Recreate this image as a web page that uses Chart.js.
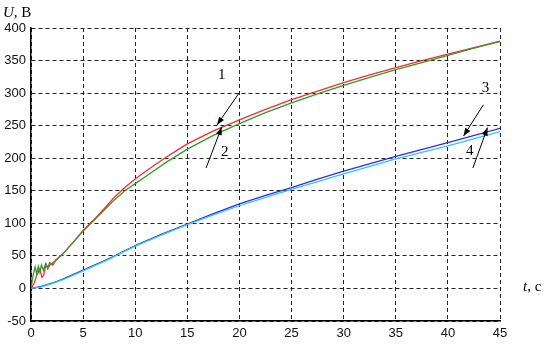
<!DOCTYPE html>
<html>
<head>
<meta charset="utf-8">
<script src="https://cdn.jsdelivr.net/npm/chart.js@4/dist/chart.umd.min.js"></script>
<style>
    html, body { margin: 0; padding: 0; background: #fff; }
    #wrap { width: 559px; height: 351px; }
</style>
</head>
<body>
<div id="wrap"><canvas id="lineChart"></canvas></div>
<script>
// curve 1 (red) and 2 (green)
var t1 = [0, 0.3, 0.6, 0.85, 1.05, 1.2, 1.45, 1.6, 1.9, 2.1, 2.4, 3, 4, 5, 6, 7, 8, 9, 10, 11, 12, 13, 14, 15, 17.5, 20, 22.5, 25, 27.5, 30, 32.5, 35, 37.5, 40, 42.5, 45];
var u1 = [0, 8, 22, 30, 17, 20, 37, 30, 38, 36, 44, 52, 70, 89, 105, 122, 140, 155, 168, 180, 191, 202, 212, 222, 242, 259, 275, 290, 303, 316, 328, 339, 350, 360, 370, 380];
var t2 = [0, 0.2, 0.4, 0.55, 0.7, 0.85, 1.0, 1.2, 1.4, 1.6, 1.8, 2.0, 2.5, 3, 4, 5, 6, 7, 8, 9, 10, 11, 12, 13, 14, 15, 17.5, 20, 22.5, 25, 27.5, 30, 32.5, 35, 37.5, 40, 42.5, 45];
var u2 = [0, 20, 33, 22, 34, 25, 36, 28, 38, 32, 40, 38, 45, 52, 70, 88, 104, 120, 136, 150, 161, 172, 183, 194, 204, 214, 235, 253, 270, 285, 299, 312, 324, 336, 347, 358, 369, 379];
// curve 3 (blue) and 4 (cyan)
var t3 = [0, 1, 2, 3, 5, 7.5, 10, 12.5, 15, 17.5, 20, 22.5, 25, 27.5, 30, 35, 40, 45];
var u3 = [0, 3, 8, 14, 28, 46, 66, 83, 99, 115, 130, 143, 155, 168, 180, 203, 224, 246];
var u4 = [0, 2.5, 7.5, 13, 27, 45, 65, 82, 98, 113, 127, 140, 152, 164, 176, 199, 219, 241];

var xTicks = [0, 5, 10, 15, 20, 25, 30, 35, 40, 45];
var yTicks = [-50, 0, 50, 100, 150, 200, 250, 300, 350, 400];

// curve numbers and arrows, in data units
var soCurve = ["1", "2", "3", "4"];
var nhanT = [18.3, 18.6, 43.6, 42.1];
var nhanU = [327, 210, 308, 211];
var muiTenTu = [[19.95, 300], [16.8, 185], [43.4, 282], [42.4, 185]];
var muiTenDen = [[17.85, 251], [18.3, 248], [41.5, 234], [43.8, 247]];

function toPoints(t, u) {
    var pts = [];
    for (var i = 0; i < t.length; i++) {
        pts.push({ x: t[i], y: u[i] });
    }
    return pts;
}

var chuThich = {
    id: 'chuThich',
    afterDraw: function (chart) {
        var ctx = chart.ctx;
        var sx = chart.scales.x;
        var sy = chart.scales.y;
        ctx.save();
        ctx.fillStyle = '#000';
        ctx.strokeStyle = '#000';
        ctx.lineWidth = 1;
        ctx.textAlign = 'center';
        ctx.textBaseline = 'middle';
        ctx.font = '15px "Liberation Serif", serif';
        for (var i = 0; i < soCurve.length; i++) {
            ctx.fillText(soCurve[i], sx.getPixelForValue(nhanT[i]), sy.getPixelForValue(nhanU[i]));
            var x1 = sx.getPixelForValue(muiTenTu[i][0]);
            var y1 = sy.getPixelForValue(muiTenTu[i][1]);
            var x2 = sx.getPixelForValue(muiTenDen[i][0]);
            var y2 = sy.getPixelForValue(muiTenDen[i][1]);
            ctx.beginPath();
            ctx.moveTo(x1, y1);
            ctx.lineTo(x2, y2);
            ctx.stroke();
            var a = Math.atan2(y2 - y1, x2 - x1);
            ctx.beginPath();
            ctx.moveTo(x2, y2);
            ctx.lineTo(x2 - 8 * Math.cos(a) + 3 * Math.sin(a), y2 - 8 * Math.sin(a) - 3 * Math.cos(a));
            ctx.lineTo(x2 - 8 * Math.cos(a) - 3 * Math.sin(a), y2 - 8 * Math.sin(a) + 3 * Math.cos(a));
            ctx.closePath();
            ctx.fill();
        }
        // axis names
        ctx.textAlign = 'left';
        ctx.textBaseline = 'alphabetic';
        ctx.font = 'italic 15px "Liberation Serif", serif';
        ctx.fillText('U', 3, 17);
        var w = ctx.measureText('U').width;
        ctx.font = '15px "Liberation Serif", serif';
        ctx.fillText(', B', 3 + w, 17);
        ctx.font = 'italic 15px "Liberation Serif", serif';
        ctx.fillText('t', 523, 291);
        var w2 = ctx.measureText('t').width;
        ctx.font = '15px "Liberation Serif", serif';
        ctx.fillText(', c', 523 + w2, 291);
        ctx.restore();
    }
};

var nenTrang = {
    id: 'nenTrang',
    beforeDraw: function (chart) {
        var ctx = chart.ctx;
        ctx.save();
        ctx.fillStyle = '#fff';
        ctx.fillRect(0, 0, chart.width, chart.height);
        ctx.restore();
    }
};

var ctxL = document.getElementById("lineChart").getContext('2d');
new Chart(ctxL, {
    type: 'scatter',
    data: {
        datasets: [
            { data: toPoints(t2, u2), borderColor: '#2f9a2f', borderWidth: 1.3, showLine: true, pointRadius: 0, fill: false },
            { data: toPoints(t1, u1), borderColor: '#ff2a2a', borderWidth: 1.3, showLine: true, pointRadius: 0, fill: false },
            { data: toPoints(t3, u4), borderColor: '#33cccc', borderWidth: 1.3, showLine: true, pointRadius: 0, fill: false },
            { data: toPoints(t3, u3), borderColor: '#2a2aff', borderWidth: 1.3, showLine: true, pointRadius: 0, fill: false }
        ]
    },
    options: {
        responsive: true,
        maintainAspectRatio: false,
        animation: false,
        events: [],
        layout: { padding: { left: 0, top: 28, right: 59, bottom: 0 } },
        plugins: { legend: { display: false }, tooltip: { enabled: false } },
        scales: {
            x: {
                type: 'linear',
                min: 0,
                max: 45,
                afterBuildTicks: function (scale) {
                    scale.ticks = xTicks.map(function (v) { return { value: v }; });
                },
                afterFit: function (scale) { scale.height = 30; },
                grid: { color: '#222', lineWidth: 1, drawTicks: false },
                border: { display: true, color: '#000', width: 1.5, dash: [4, 3] },
                ticks: { padding: 5, color: '#111', font: { family: '"Liberation Sans", Arial, sans-serif', size: 13 } }
            },
            y: {
                type: 'linear',
                min: -50,
                max: 400,
                afterBuildTicks: function (scale) {
                    scale.ticks = yTicks.map(function (v) { return { value: v }; });
                },
                afterFit: function (scale) { scale.width = 31; },
                grid: { color: '#222', lineWidth: 1, drawTicks: false },
                border: { display: true, color: '#000', width: 1.5, dash: [4, 3] },
                ticks: { padding: 5, color: '#111', font: { family: '"Liberation Sans", Arial, sans-serif', size: 13 } }
            }
        }
    },
    plugins: [nenTrang, chuThich]
});
</script>
</body>
</html>
